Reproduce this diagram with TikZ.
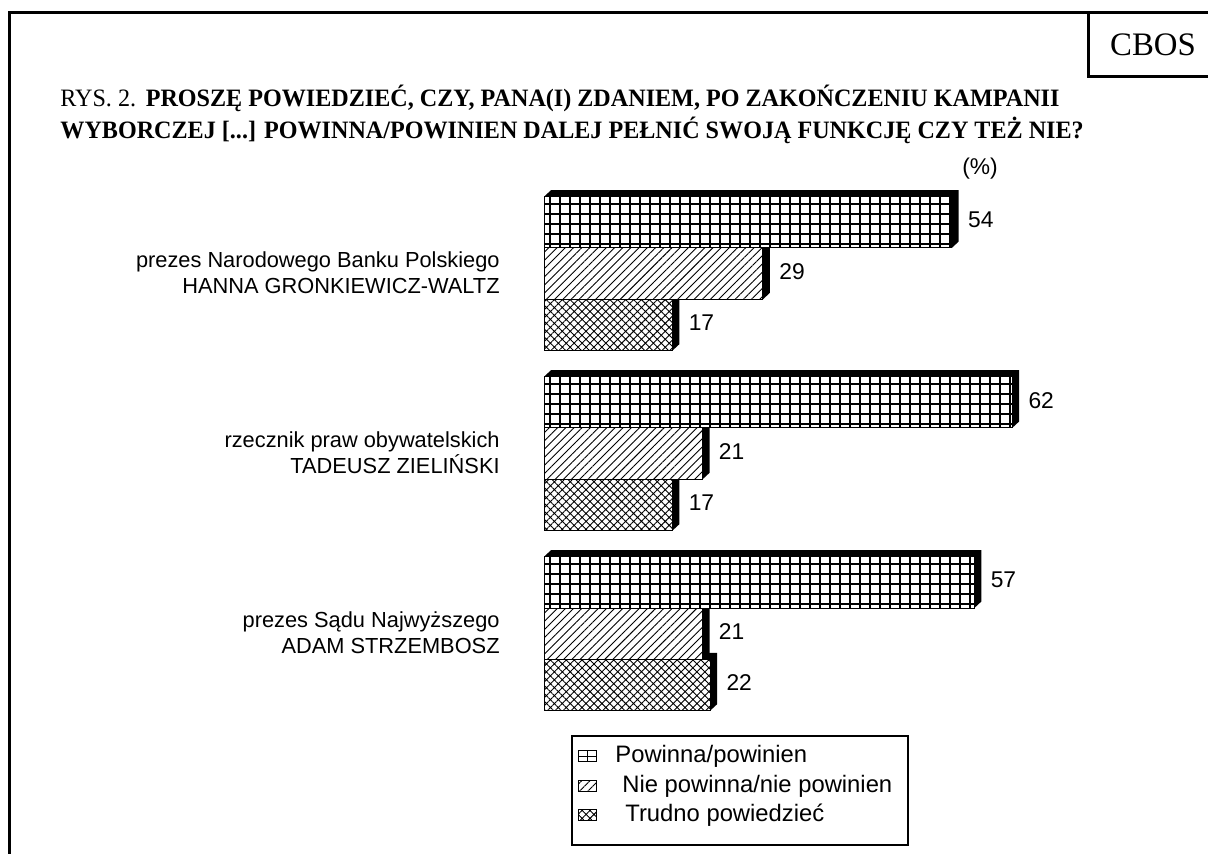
\documentclass[tikz,border=0pt]{standalone}
\usepackage{fontspec}
\setmainfont{Liberation Serif}
\setsansfont{Liberation Sans}
\usetikzlibrary{patterns.meta}
\usetikzlibrary{positioning}

\tikzset{
  frameline/.style={line width=1.5pt},
  powinna/.style={preaction={fill=white}, pattern={Hatch[angle=0,distance=5pt,line width=0.7pt]}},
  niepowinna/.style={preaction={fill=white}, pattern={Lines[angle=45,distance=2.9pt,line width=0.45pt]}},
  trudno/.style={preaction={fill=white}, pattern={Hatch[angle=45,distance=2.8pt,line width=0.45pt]}},
  val/.style={font=\sffamily\fontsize{11.4}{13}\selectfont, anchor=west, inner sep=0pt},
  who/.style={font=\sffamily\fontsize{10.9}{12.8}\selectfont, align=right, anchor=east, inner sep=0pt},
  legtext/.style={font=\sffamily\fontsize{11.9}{13}\selectfont, anchor=west, inner sep=0pt},
}

% bar: name, top y, value, pattern style
\newcommand{\slupek}[4]{%
  \pgfmathsetmacro{\xr}{544+#3*7.55}
  \fill (544,#2) -- ++(7,-6.5) -- (\xr+7,#2-6.5) -- (\xr+7,#2+44.8) -- (\xr,#2+51.3) -- (\xr,#2) -- cycle;
  \draw[#4, line width=0.5pt] (544,#2) rectangle (\xr,#2+51.3);
  \node[val] (#1) at (\xr+16,#2+23.5) {#3};
}

\begin{document}
\begin{tikzpicture}[x=0.5pt,y=-0.5pt]
  \clip (0,0) rectangle (1208,854);
  \fill[white] (0,0) rectangle (1208,854);
  % frame and CBOS box
  \draw[frameline] (1230,13) -- (9,13) -- (9,870);
  \draw[frameline] (1230,77) -| (1088,13);
  \node[font=\fontsize{16.4}{18}\selectfont] (cbos) at (1153,45) {CBOS};
  % title
  \node[anchor=base west, inner sep=0pt, font=\fontsize{12.5}{15}\selectfont] (tytul1) at (60,107)
    {\scalebox{0.965}[1]{RYS. 2.\hspace{5pt}\textbf{PROSZĘ POWIEDZIEĆ, CZY, PANA(I) ZDANIEM, PO ZAKOŃCZENIU KAMPANII}}};
  \node[anchor=base west, inner sep=0pt, font=\fontsize{12.5}{15}\selectfont\bfseries] (tytul2) at (60,139)
    {\scalebox{0.965}[1]{WYBORCZEJ [...] POWINNA/POWINIEN DALEJ PEŁNIĆ SWOJĄ FUNKCJĘ CZY TEŻ NIE?}};
  \node[font=\sffamily\fontsize{11.4}{13}\selectfont, inner sep=0pt] (proc) at (980,169) {(\%)};

  % group 1
  \slupek{v13}{299.4}{17}{trudno}
  \slupek{v12}{248}{29}{niepowinna}
  \slupek{v11}{196.7}{54}{powinna}
  \node[who] (nbp) at (500,273) {prezes Narodowego Banku Polskiego\\HANNA GRONKIEWICZ-WALTZ};

  % group 2
  \slupek{v23}{479.4}{17}{trudno}
  \slupek{v22}{428}{21}{niepowinna}
  \slupek{v21}{376.7}{62}{powinna}
  \node[who] (rpo) at (500,453) {rzecznik praw obywatelskich\\TADEUSZ ZIELIŃSKI};

  % group 3
  \slupek{v33}{659.4}{22}{trudno}
  \slupek{v32}{608}{21}{niepowinna}
  \slupek{v31}{556.7}{57}{powinna}
  \node[who] (sn) at (500,633) {prezes Sądu Najwyższego\\ADAM STRZEMBOSZ};

  % legend
  \draw[line width=0.6pt] (572,736) rectangle (908,845);
  \draw[line width=0.5pt] (578,750.5) rectangle (596,761.5);
  \draw[line width=0.5pt] (578,756) -- (596,756) (587,750.5) -- (587,761.5);
  \draw[niepowinna, line width=0.5pt] (578,780.5) rectangle (596,791.5);
  \draw[trudno, line width=0.5pt] (578,809.5) rectangle (596,820.5);
  \node[legtext] (l1) at (615,756) {Powinna/powinien};
  \node[legtext] (l2) at (622,786) {Nie powinna/nie powinien};
  \node[legtext] (l3) at (625,815) {Trudno powiedzieć};
\end{tikzpicture}
\end{document}
